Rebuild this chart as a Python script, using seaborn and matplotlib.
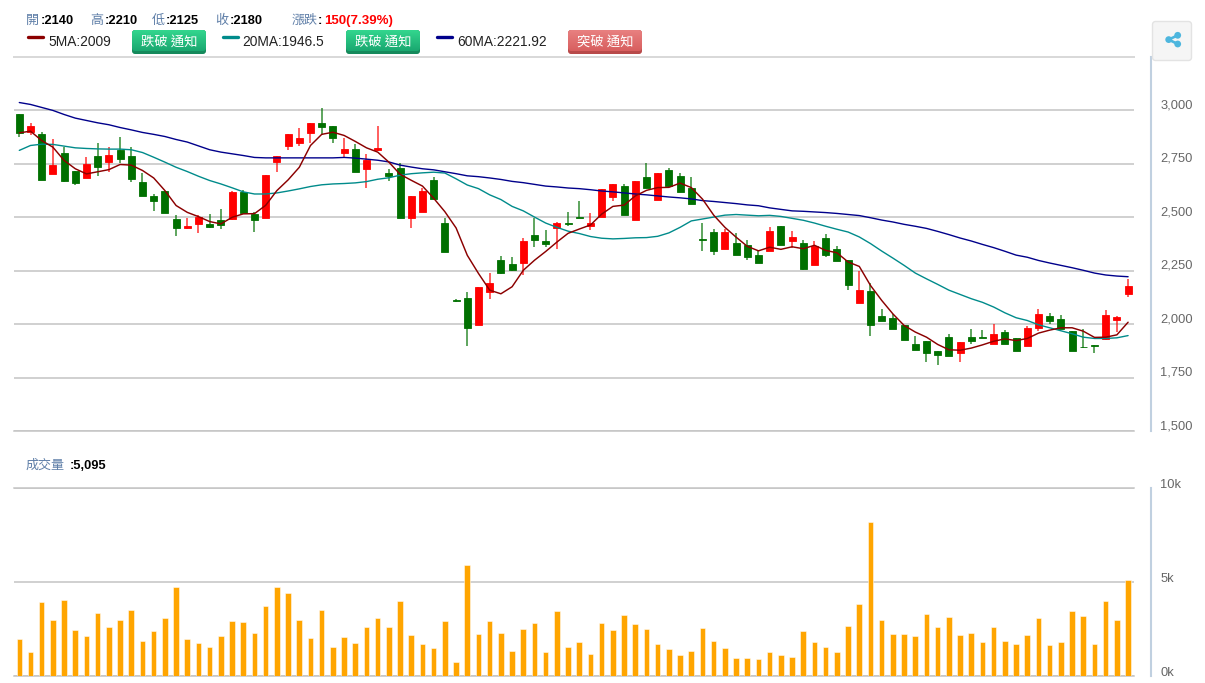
import numpy as np
import pandas as pd
import seaborn as sns
import matplotlib
matplotlib.use("Agg")
import matplotlib.pyplot as plt
from matplotlib.patches import FancyBboxPatch, Circle
from matplotlib.lines import Line2D
from matplotlib.transforms import ScaledTranslation

open_ = [2984,2900,2888,2702,2803,2716,2684,2788,2758,2813,2788,2666,2600,2623,2491,2448,2467,2469,2486,2492,
         2617,2517,2498,2758,2834,2848,2894,2941,2925,2800,2820,2725,2816,2709,2730,2498,2526,2674,2475,2111,
         2122,1994,2152,2300,2283,2286,2419,2387,2450,2473,2501,2459,2503,2595,2648,2489,2687,2580,2719,2691,
         2637,2399,2432,2353,2382,2371,2322,2342,2461,2389,2378,2277,2405,2350,2300,2100,2153,2037,2027,1998,
         1906,1919,1873,1941,1864,1939,1939,1908,1961,1933,1897,1984,2037,2022,1966,1894,1903,1931,2019,2140]
high = [2984,2942,2897,2864,2831,2716,2784,2848,2831,2877,2827,2706,2611,2623,2513,2498,2513,2514,2538,2623,
        2628,2527,2700,2789,2891,2916,2941,3012,2925,2869,2842,2797,2925,2727,2756,2598,2639,2690,2498,2118,
        2149,2176,2241,2319,2312,2404,2498,2442,2478,2524,2578,2520,2631,2654,2654,2670,2752,2707,2730,2707,
        2688,2475,2444,2445,2425,2394,2345,2456,2461,2434,2395,2388,2420,2367,2300,2247,2194,2072,2048,1998,
        1944,1923,1873,1956,1917,1978,1972,2000,1972,1933,1992,2070,2053,2044,1966,1978,1903,2064,2039,2210]
low = [2878,2883,2675,2702,2663,2652,2684,2695,2711,2756,2663,2598,2531,2522,2411,2444,2427,2450,2444,2489,
       2519,2433,2498,2711,2816,2833,2847,2886,2847,2781,2713,2636,2808,2669,2498,2449,2526,2586,2336,2105,
       1900,1994,2118,2234,2249,2232,2360,2360,2351,2459,2498,2442,2503,2578,2509,2489,2636,2580,2642,2619,
       2564,2342,2323,2353,2325,2302,2286,2342,2370,2358,2253,2277,2314,2297,2159,2100,1945,2017,1975,1925,
       1878,1825,1808,1853,1825,1908,1934,1908,1909,1875,1897,1967,2002,1978,1875,1888,1864,1928,1963,2125]
close = [2894,2925,2675,2744,2669,2659,2747,2734,2792,2772,2680,2598,2575,2522,2450,2458,2500,2455,2466,2617,
         2522,2489,2700,2786,2891,2869,2941,2922,2872,2819,2713,2766,2825,2691,2498,2598,2623,2586,2336,2108,
         1983,2176,2192,2237,2252,2387,2396,2373,2475,2470,2498,2473,2631,2654,2509,2670,2639,2707,2645,2619,
         2564,2396,2343,2432,2325,2314,2286,2436,2370,2406,2256,2366,2325,2297,2183,2162,1995,2017,1975,1925,
         1881,1864,1855,1853,1917,1920,1936,1955,1909,1875,1983,2048,2017,1978,1875,1891,1900,2044,2033,2180]
ma5 = [2895,2903,2859,2828,2766,2727,2703,2713,2723,2747,2744,2719,2684,2625,2555,2523,2503,2480,2469,2500,
       2516,2517,2556,2625,2675,2734,2836,2888,2898,2883,2855,2825,2805,2758,2701,2673,2646,2589,2526,2450,
       2322,2237,2159,2142,2175,2252,2299,2340,2384,2425,2445,2464,2515,2551,2557,2600,2626,2639,2640,2660,
       2639,2585,2510,2453,2407,2364,2343,2360,2350,2362,2353,2369,2345,2334,2291,2270,2181,2111,2048,1994,
       1963,1939,1905,1880,1878,1888,1903,1920,1931,1923,1933,1958,1972,1983,1983,1967,1938,1939,1950,2009]
ma20 = [2813,2836,2842,2841,2833,2825,2822,2820,2819,2819,2816,2803,2781,2758,2734,2714,2692,2672,2656,2638,
        2619,2609,2609,2614,2623,2633,2644,2652,2656,2658,2661,2667,2678,2685,2697,2704,2708,2711,2707,2680,
        2651,2634,2605,2583,2551,2530,2501,2473,2453,2435,2424,2410,2402,2399,2401,2404,2405,2411,2427,2453,
        2483,2492,2501,2510,2513,2510,2507,2509,2504,2495,2486,2473,2458,2444,2431,2408,2377,2342,2309,2275,
        2239,2212,2186,2159,2139,2119,2102,2080,2053,2030,2017,1997,1983,1969,1955,1939,1933,1933,1936,1946.5]
ma60 = [3037,3028,3014,3000,2981,2964,2953,2942,2933,2920,2909,2897,2888,2878,2864,2852,2834,2816,2805,2797,
        2789,2780,2778,2778,2778,2778,2778,2778,2778,2780,2777,2772,2767,2759,2744,2735,2727,2722,2713,2704,
        2694,2690,2684,2677,2668,2662,2654,2646,2642,2637,2634,2629,2623,2619,2614,2609,2605,2600,2595,2591,
        2586,2578,2574,2569,2564,2558,2554,2544,2537,2530,2528,2525,2522,2518,2513,2508,2498,2487,2478,2467,
        2458,2448,2434,2419,2403,2389,2373,2358,2341,2323,2313,2298,2286,2275,2264,2252,2239,2230,2225,2221.92]
volume = [1950,1259,3936,2996,4043,2447,2128,3369,2624,2996,3493,1880,2376,3067,4734,1950,1755,1560,2128,2926,
          2872,2305,3741,4734,4415,2996,2004,3493,1560,2074,1755,2624,3067,2624,3989,2181,1684,1489,2926,745,
          5922,2252,2926,2305,1312,2500,2819,1259,3440,1560,1809,1188,2819,2447,3245,2748,2500,1684,1436,1117,
          1312,2553,1880,1489,940,940,887,1259,1117,1011,2376,1809,1560,1259,2677,3812,8174,2996,2252,2252,
          2128,3298,2624,3121,2181,2305,1809,2624,1862,1684,2181,3067,1631,1809,3440,3191,1684,3989,2996,5095]
price_ticks = [1500, 1750, 2000, 2250, 2500, 2750, 3000]
price_labels = ["1,500", "1,750", "2,000", "2,250", "2,500", "2,750", "3,000"]
vol_ticks = [0, 5000, 10000]
vol_labels = ["0k", "5k", "10k"]

W, H = 1205, 683
RED, GREEN, ORANGE = "#ff0000", "#007000", "#ffa500"
GRID = "#c4c4c4"
AXIS = "#c0d0e0"
LABEL = "#5f7fa8"
CJK = ["Noto Sans CJK TC", "DejaVu Sans"]
LAT = "Liberation Sans"

sns.set_theme(style="white")
plt.rcParams["font.family"] = ["Liberation Sans", "Noto Sans CJK TC", "DejaVu Sans"]

df = pd.DataFrame(dict(i=np.arange(len(close)), o=open_, h=high, l=low, c=close,
                       ma5=ma5, ma20=ma20, ma60=ma60, v=volume))
df["col"] = np.where(df.c >= df.o, RED, GREEN)

fig = plt.figure(figsize=(W / 100, H / 100), dpi=100, facecolor="white")


def axes_px(x0, x1, y0, y1):
    return fig.add_axes([x0 / W, 1 - y1 / H, (x1 - x0) / W, (y1 - y0) / H])


ax = axes_px(14, 1134, 57, 431)
vx = axes_px(14, 1134, 488, 676)
xlim = ((14 - 19.3) / 11.2, (1134 - 19.3) / 11.2)

for a in (ax, vx):
    a.set_xlim(*xlim)
    a.set_xticks([])
    a.yaxis.tick_right()
    a.tick_params(axis="y", length=0, pad=6.5, labelsize=9.3, labelcolor="#666666")
    a.grid(axis="y", color=GRID, lw=1.1, zorder=0)
    a.set_axisbelow(True)
    a.spines["left"].set_visible(False)
    for s in ("top", "bottom"):
        a.spines[s].set_color(GRID)
        a.spines[s].set_linewidth(1.1)
    a.spines["right"].set_position(("outward", 12.5))
    a.spines["right"].set_color(AXIS)
    a.spines["right"].set_linewidth(1.5)
ax.spines["top"].set_color("#d8d8d8")
ax.spines["top"].set_linewidth(1.4)

# price panel
ax.vlines(df.i, df.l, df.h, colors=df.col, lw=1.1, alpha=0.8, zorder=2)
ax.bar(df.i, (df.c - df.o).abs(), bottom=df[["o", "c"]].min(axis=1), width=0.64,
       color=df.col, edgecolor=df.col, linewidth=0.6, zorder=3)
sns.lineplot(data=df, x="i", y="ma5", ax=ax, color="#8b0000", lw=1.05, zorder=5)
sns.lineplot(data=df, x="i", y="ma20", ax=ax, color="#008b8b", lw=1.0, zorder=4)
sns.lineplot(data=df, x="i", y="ma60", ax=ax, color="#00008b", lw=1.0, zorder=4)
ax.set_ylim(1500, 3250)
ax.set_yticks(price_ticks, price_labels)
ax.set_xlabel("")
ax.set_ylabel("")

# volume panel
sns.barplot(data=df, x="i", y="v", ax=vx, native_scale=True, color=ORANGE, saturation=1,
            width=0.5, edgecolor=(1, 1, 1, 0.5), linewidth=0.7, zorder=3)
vx.set_xlim(*xlim)
vx.set_ylim(0, 10000)
vx.set_yticks(vol_ticks, vol_labels)
vx.set_xlabel("")
vx.set_ylabel("")

fig.canvas.draw()
for a, up in ((ax, 5), (vx, 2.5)):
    shift = ScaledTranslation(0, up / 100, fig.dpi_scale_trans)
    for t in a.get_yticklabels():
        t.set_verticalalignment("center")
        t.set_transform(t.get_transform() + shift)

# overlay in pixel coordinates for header items
ov = fig.add_axes([0, 0, 1, 1], zorder=10)
ov.set_xlim(0, W)
ov.set_ylim(H, 0)
ov.axis("off")
ov.patch.set_alpha(0)


def txt(x, y, s, color="black", bold=False, fam=None, size=9.3, ha="left"):
    ov.text(x, y, s, color=color, fontweight="bold" if bold else "normal",
            family=fam or LAT, fontsize=size, ha=ha, va="center")


def button(x0, x1, y0, y1, top, bot, edge, label):
    shape = FancyBboxPatch((x0, y0), x1 - x0, y1 - y0, boxstyle="round,pad=0,rounding_size=3",
                           fc=edge, ec="none", zorder=2)
    ov.add_patch(shape)
    inner = FancyBboxPatch((x0, y0), x1 - x0, y1 - y0 - 3, boxstyle="round,pad=0,rounding_size=3",
                           fc="none", ec="none", zorder=3)
    ov.add_patch(inner)
    c0, c1 = matplotlib.colors.to_rgb(top), matplotlib.colors.to_rgb(bot)
    grad = np.linspace(0, 1, 32)[:, None, None] * (np.array(c1) - np.array(c0))[None, None, :] + np.array(c0)[None, None, :]
    im = ov.imshow(grad, extent=(x0, x1, y1 - 3, y0), aspect="auto", zorder=3)
    im.set_clip_path(inner)
    txt((x0 + x1) / 2, (y0 + y1) / 2 - 0.5, label, color="white", fam=CJK, size=9.6, ha="center")


Y1, Y2 = 21, 42
for x, lab, xv, val in [(26, "開", 41, ":2140"), (90, "高", 105, ":2210"),
                        (152, "低", 166, ":2125"), (215, "收", 230, ":2180")]:
    txt(x, Y1 - 0.5, lab, color=LABEL, fam=CJK, size=9.4)
    txt(xv, Y1, val, bold=True)
txt(292, Y1 - 0.5, "漲跌", color=LABEL, fam=CJK, size=9.4)
txt(318, Y1, ":", color="black", bold=True)
txt(324, Y1, "150(7.39%)", color=RED, bold=True, size=9.5)

for x0, col, xt, s in [(28, "#8b0000", 48, "5MA:2009"), (223, "#008b8b", 242.5, "20MA:1946.5"),
                       (437, "#00008b", 457, "60MA:2221.92")]:
    ov.add_line(Line2D([x0, x0 + 15], [37, 37], color=col, lw=2.4, solid_capstyle="round"))
    txt(xt, Y2, s, color="#222222", size=9.9)

button(132, 206, 30, 54, "#33d68e", "#1aa870", "#168a5c", "跌破 通知")
button(346, 420, 30, 54, "#33d68e", "#1aa870", "#168a5c", "跌破 通知")
button(568, 642, 30, 54, "#e88080", "#d85f5f", "#b84a4a", "突破 通知")

txt(26, 465.5, "成交量", color=LABEL, fam=CJK, size=9.4)
txt(70, 466, ":5,095", bold=True)

# share button
ov.add_patch(FancyBboxPatch((1152.5, 21.5), 39, 39, boxstyle="round,pad=0,rounding_size=3",
                            fc="#f5f5f5", ec="#e3e3e3", lw=1, zorder=2))
SH = "#4db6de"
ov.add_line(Line2D([1177.7, 1168.7, 1177.7], [35.3, 39.6, 44], color=SH, lw=1.9, zorder=3))
for cx, cy, r in [(1177.7, 35.3, 3.4), (1168.7, 39.6, 3.4), (1177.7, 44, 3.4)]:
    ov.add_patch(Circle((cx, cy), r, fc=SH, ec="none", zorder=4))

fig.savefig("out.png", dpi=100, facecolor="white")
